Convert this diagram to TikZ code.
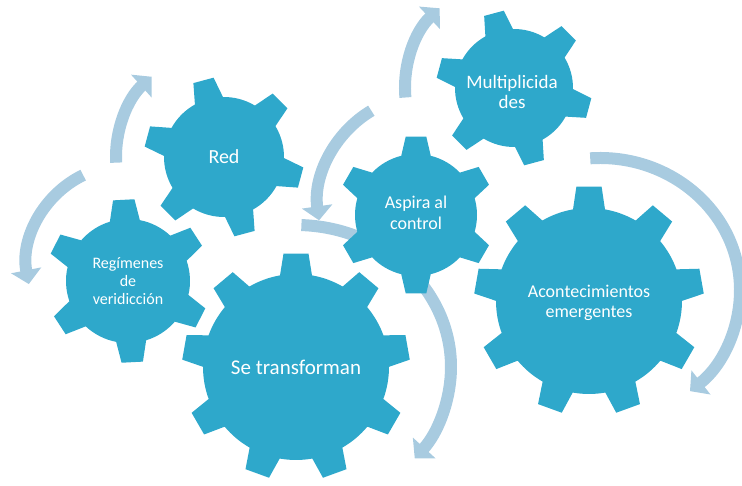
\documentclass[tikz,border=0pt]{standalone}
\usepackage{fontspec}
\setmainfont{Carlito}
\usetikzlibrary{arrows.meta}

\definecolor{gearblue}{RGB}{46,168,203}
\definecolor{turnblue}{RGB}{168,203,224}

\tikzset{
  gearlabel/.style={text=white, align=center, inner sep=0pt},
  turnarrow/.style={turnblue, line width=12pt, -{Triangle[width=30pt,length=14pt]}},
}

% gear: #1 centre, #2 teeth, #3 body radius, #4 tip radius, #5 phase, #6 base half angle, #7 tip half angle
\newcommand{\drawgear}[7]{%
  \fill[gearblue, shift={#1}] ({#5-#6}:#3)
    \foreach \k in {1,...,#2}{
      -- ({#5+(\k-1)*360/#2-#7}:#4) -- ({#5+(\k-1)*360/#2+#7}:#4)
      -- ({#5+(\k-1)*360/#2+#6}:#3)
      arc[start angle={#5+(\k-1)*360/#2+#6}, end angle={#5+\k*360/#2-#6}, radius=#3]
    } -- cycle;}

\begin{document}
\begin{tikzpicture}[x=1pt, y=1pt]
    \useasboundingbox (0,0) rectangle (742,485);
    % Gear centres
    \coordinate (reg) at (128,204);
    \coordinate (red) at (224,328);
    \coordinate (trans) at (296,118);
    \coordinate (asp) at (416,270);
    \coordinate (mult) at (514,397);
    \coordinate (acon) at (589,184);
    % Turning arrows (behind the gears)
    \draw[turnarrow] (127,220) ++(116:100) arc[start angle=116, end angle=191, radius=100];
    \draw[turnarrow] (red) ++(183:108) arc[start angle=183, end angle=132, radius=108];
    \draw[turnarrow] (mult) ++(185:109) arc[start angle=185, end angle=133, radius=109];
    \draw[turnarrow] (428,280) ++(121:110) arc[start angle=121, end angle=188, radius=110];
    \draw[turnarrow] (trans) ++(88:155 and 142) arc[start angle=88, end angle=-40, x radius=155, y radius=142];
    \draw[turnarrow] (600,195) ++(94:140 and 132) arc[start angle=94, end angle=-50, x radius=140, y radius=132];
    % Gears
    \drawgear{(reg)}{6}{62}{82}{93}{14}{7.5}
    \drawgear{(red)}{6}{60}{80}{105}{14}{7.5}
    \drawgear{(trans)}{9}{93}{114}{90}{9.9}{6.3}
    \drawgear{(asp)}{6}{61}{79}{90}{14}{7.5}
    \drawgear{(mult)}{6}{59}{78}{105}{14}{7.5}
    \drawgear{(acon)}{9}{93}{115}{90}{9.9}{6.3}
    % Labels
    \node[gearlabel, font=\fontsize{16}{18}\selectfont] (regl) at (reg) {Regímenes\\de\\veridicción};
    \node[gearlabel, font=\fontsize{20}{22}\selectfont] (redl) at (red) {Red};
    \node[gearlabel, font=\fontsize{21}{23}\selectfont] (transl) at (trans) {Se transforman};
    \node[gearlabel, font=\fontsize{18}{21}\selectfont] (aspl) at ([yshift=2]asp) {Aspira al\\control};
    \node[gearlabel, font=\fontsize{19}{20}\selectfont] (multl) at ([shift={(-2,-4)}]mult) {Multiplicida\\des};
    \node[gearlabel, font=\fontsize{18}{20}\selectfont] (aconl) at ([yshift=-2]acon) {Acontecimientos\\emergentes};
\end{tikzpicture}
\end{document}
